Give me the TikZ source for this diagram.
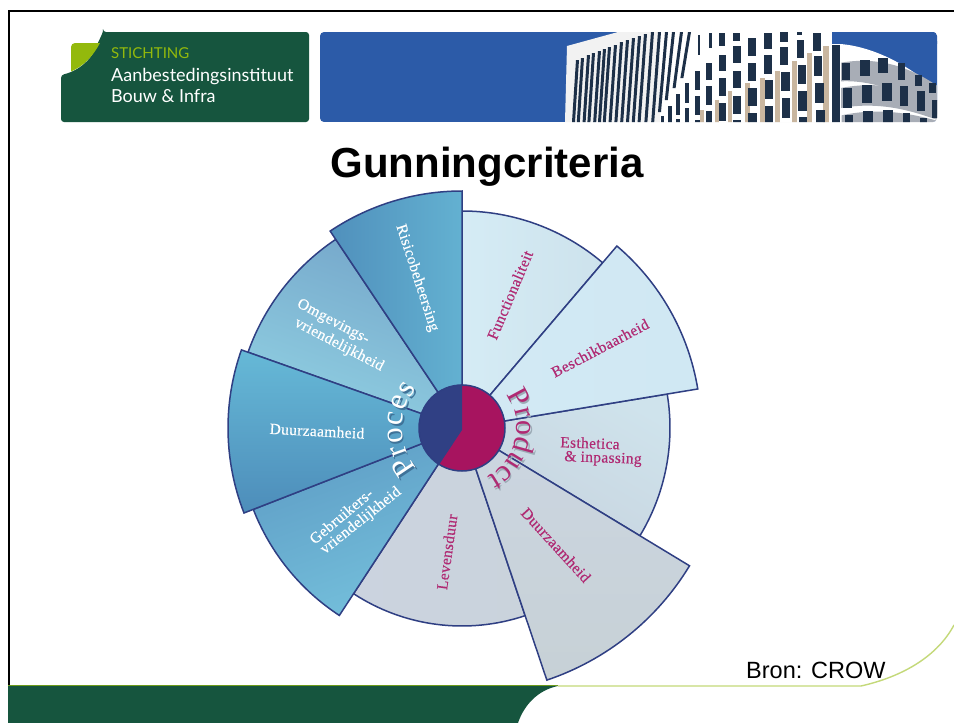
\documentclass[tikz,border=0pt]{standalone}
\usepackage{fontspec}
\usetikzlibrary{decorations.text}
\setmainfont{Liberation Serif}
\newfontfamily\arialf{Liberation Sans}
\newfontfamily\logof{Lato}
\newfontfamily\labelf[LetterSpace=2,FakeBold=0.25]{Liberation Serif}
\definecolor{edgeblue}{HTML}{2F3F83}
\definecolor{hubblue}{HTML}{304084}
\definecolor{hubred}{HTML}{A7145F}
\definecolor{labelred}{HTML}{B02A73}
\definecolor{dgreen}{HTML}{16553E}
\definecolor{lgreen}{HTML}{93B90C}
\definecolor{sky}{HTML}{2C5BA8}
\definecolor{darkwin}{HTML}{1D3048}
\definecolor{tanband}{HTML}{C9B69F}
\definecolor{mull}{HTML}{A8ADB6}
\definecolor{shadeblue}{HTML}{3F7298}
\definecolor{shadegray}{HTML}{9CABB6}
\definecolor{fa}{HTML}{D5ECF5}\definecolor{fb}{HTML}{CDE2EC}
\definecolor{ea}{HTML}{CFE3EC}\definecolor{eb}{HTML}{C8D5E0}
\definecolor{la}{HTML}{CBD3DF}\definecolor{lb}{HTML}{CAD3DC}
\definecolor{ga}{HTML}{5F9EC6}\definecolor{gb}{HTML}{74BFDB}
\definecolor{oa}{HTML}{76A8CB}\definecolor{ob}{HTML}{8FCEE1}
\definecolor{ba}{HTML}{D2E9F4}\definecolor{bb}{HTML}{D0E8F3}
\definecolor{da}{HTML}{CBD5E0}\definecolor{db}{HTML}{C7D1D6}
\definecolor{ua}{HTML}{66B9D7}\definecolor{ub}{HTML}{4D8DBA}
\definecolor{ra}{HTML}{5090BC}\definecolor{rb}{HTML}{63B1D1}
\newcommand{\sectorshape}[4]{\draw[sector,#1] (#2:43) -- (#2:#4) arc[start angle=#2,end angle=#3,radius=#4] -- (#3:43) -- cycle;}
\tikzset{
  sector/.style={draw=edgeblue,line width=1.5pt,line join=miter},
  redlabel/.style={text=labelred,font=\labelf\fontsize{15.5}{17}\selectfont,inner sep=0pt,align=center},
  whitelabel/.style={text=white,font=\labelf\fontsize{15.5}{17}\selectfont,inner sep=0pt,align=center},
  logotext/.style={anchor=base west,inner sep=0pt,font=\logof},
}
\begin{document}
\begin{tikzpicture}[x=1pt,y=-1pt]
\useasboundingbox (0,0) rectangle (954,723);
\fill[white] (0,0) rectangle (954,723);
% frame
\draw[black,line width=2pt] (8.5,723) -- (8.5,11) -- (954,11);
% footer
\fill[dgreen] (8,686) -- (558,686) .. controls (538,690) and (524,705) .. (518,723) -- (8,723) -- cycle;
\draw[color=lgreen!70!dgreen,line width=1pt] (8,685.5) -- (558,685.5);
\draw[color=lgreen!55!white,line width=1.4pt] (558,686) -- (861,686) .. controls (905,676) and (938,655) .. (954,625);
% logo
\fill[dgreen,rounded corners=3pt] (103,32) -- (309,32) -- (309,122) -- (61,122) -- (61,75) .. controls (82,70) and (96,55) .. (103,32) -- cycle;
\fill[dgreen] (103,32) -- (120,32) -- (120,50) -- (90,60) -- cycle;
\fill[lgreen] (71,47) arc[start angle=180,end angle=270,radius=4] -- (100,43) .. controls (93,56) and (84,66) .. (71,71.5) -- cycle;
\node[logotext,text=lgreen] (stichting) at (111,58) {\fontsize{15}{16}\selectfont STICHTING};
\node[logotext,text=white] (aanb) at (111,81) {\fontsize{18}{20}\selectfont Aanbestedingsinstituut};
\node[logotext,text=white] (bouw) at (111,102) {\fontsize{18}{20}\selectfont Bouw \& Infra};
% photo
\begin{scope}
\clip[rounded corners=4pt] (320,32) rectangle (937,122);
\fill[sky] (320,32) rectangle (937,122);
\fill[white!90!gray] (565,122) -- (567,46) -- (618,32) -- (835,32) -- (835,122) -- cycle;
\fill[white] (660,32) -- (835,32) -- (835,122) -- (660,122) -- cycle;
% slats
\foreach \i/\tx/\ty in {0/576/60,1/581/58,2/587/55,3/592/53,4/598/51,5/603/49,6/608/47,7/614/45,8/620/42,9/626/40,10/632/38,11/638/36,12/644/34,13/651/32,14/658/32,15/665/32,16/672/32,17/680/32,18/688/32}{
  \pgfmathsetmacro{\bx}{\tx-4-0.2*\i}
  \pgfmathsetmacro{\by}{\i<13 ? 122 : (\i<15 ? 122 : (\i==15 ? 112 : (\i==16 ? 100 : (\i==17 ? 88 : 78))))}
  \fill[darkwin] (\tx,\ty) -- (\tx+3,\ty) -- (\bx+3,\by) -- (\bx,\by) -- cycle;
}
% tan bands and windows on the facade (zoom coordinates)
\begin{scope}[shift={(555,28)},scale=1/3]
\foreach \a/\b in {435/245,480/215,520/190}{\fill[tanband] (\a,\b) rectangle (\a+12,290);}
\foreach \a/\b/\c/\d in {362/198/374/260,362/272/374/290,390/165/402/225,390/240/402/290,420/130/434/185,420/205/434/260,420/275/434/290,452/105/470/155,452/175/470/232,452/250/470/290,492/80/512/130,492/150/512/205,492/225/512/280,535/55/558/105,535/130/558/180,535/205/558/258,535/275/558/290,340/235/350/290,318/265/328/290,430/20/436/80,462/15/472/60,492/15/510/55,535/15/556/38}{\fill[darkwin] (\a,\b) rectangle (\c,\d);}
\end{scope}
\begin{scope}[shift={(745,28)},scale=1/3]
\foreach \a/\b in {0/165,45/150,90/130,140/100,185/75,235/55}{\fill[tanband] (\a,\b) rectangle (\a+16,290);}
\foreach \a/\b/\c/\d in {10/30/34/85,10/105/34/160,10/180/36/235,10/255/36/290,56/14/80/62,56/80/82/138,60/155/84/212,60/235/84/290,104/12/128/42,106/58/130/112,108/132/134/190,110/210/136/270,155/12/172/20,155/35/178/90,158/110/182/168,160/190/186/248,162/268/186/290,204/15/228/68,208/85/232/145,210/165/236/225,212/245/240/290}{\fill[darkwin] (\a,\b) rectangle (\c,\d);}
% right building
\fill[white] (255,-10) rectangle (285,290);
\fill[sky] (262,-10) rectangle (900,48);
\fill[sky] (285,40) rectangle (600,220);
\fill[white] (285,48) .. controls (380,55) and (500,110) .. (600,210) -- (600,290) -- (285,290) -- cycle;
\fill[darkwin] (262,50) rectangle (285,290);
\fill[mull] (288,104) .. controls (400,85) and (500,115) .. (600,190) -- (600,275) .. controls (500,205) and (400,155) .. (288,160) -- cycle;
\fill[mull] (288,180) .. controls (400,158) and (500,180) .. (600,230) -- (600,285) .. controls (500,245) and (400,220) .. (288,240) -- cycle;
\fill[mull] (290,262) .. controls (400,238) and (500,255) .. (600,285) -- (600,300) -- (290,300) -- cycle;
\foreach \a/\b/\c/\d in {290/105/315/155,345/95/375/145,400/90/430/135,458/105/480/155,510/140/530/175,552/165/572/195,295/180/320/240,350/170/380/225,410/165/440/220,465/175/490/235,515/190/540/250,560/215/578/270,300/262/325/290,355/250/385/290,415/245/445/290,475/255/495/290,525/270/545/290}{\fill[darkwin] (\a,\b) rectangle (\c,\d);}
\end{scope}
\end{scope}
% title
\node[inner sep=0pt,font=\arialf\bfseries\fontsize{42}{46}\selectfont] (title) at (487,167) {Gunningcriteria};
% wheel
\begin{scope}[shift={(462,428)},x=1pt,y=1pt]
\sectorshape{left color=fa,right color=fb}{90}{49.6}{217}
\sectorshape{top color=ea,bottom color=eb,shading angle=-30}{9.4}{-31.2}{208}
\sectorshape{left color=la,right color=lb}{-71.4}{-123.2}{198}
\sectorshape{left color=ga,right color=gb,shading angle=20}{-123.2}{-158.7}{224}
\sectorshape{top color=oa,bottom color=ob,shading angle=-20}{160.5}{123.8}{227}
\sectorshape{left color=ba,right color=bb}{49.6}{9.4}{239}
\sectorshape{top color=da,bottom color=db}{-31.2}{-71.4}{266}
\sectorshape{top color=ua,bottom color=ub}{-158.7}{-199.5}{234}
\sectorshape{left color=ra,right color=rb}{123.8}{90}{237}
\node[circle,minimum size=86pt,inner sep=0pt] (hub) at (0,0) {};
\fill[hubred] (0,0) circle[radius=43];
\fill[hubblue] (0,43) arc[start angle=90,end angle=238,radius=43] -- (0,-2) -- cycle;
\draw[edgeblue,line width=1.5pt] (0,0) circle[radius=43];
% curved words: shadow, then letters
\path[decorate,decoration={text along path,text align={fit to path},text={|\fontsize{31}{33}\selectfont\color{shadeblue}|Proces}}]
  (222:60) ++(1.5,-2) arc[start angle=222,end angle=139,radius=60];
\path[decorate,decoration={text along path,text align={fit to path},text={|\fontsize{31}{33}\selectfont\color{white}|Proces}}]
  (222:60) arc[start angle=222,end angle=139,radius=60];
\path[decorate,decoration={text along path,text align={fit to path},text={|\fontsize{30}{33}\selectfont\color{shadegray}|Product}}]
  (37:55) ++(1.5,-2) arc[start angle=37,end angle=-63,radius=55];
\path[decorate,decoration={text along path,text align={fit to path},text={|\fontsize{30}{33}\selectfont\color{labelred}|Product}}]
  (37:55) arc[start angle=37,end angle=-63,radius=55];
\end{scope}
% labels
\node[whitelabel,rotate=-72] (risico) at (417,278) {Risicobeheersing};
\node[whitelabel,rotate=-28] (omg1) at (333,322) {Omgevings-};
\node[whitelabel,rotate=-27.5] (omg2) at (339,345) {vriendelijkheid};
\node[whitelabel,rotate=-3] (duurzl) at (317,431) {Duurzaamheid};
\node[whitelabel,rotate=40] (gebr1) at (341,516) {Gebruikers-};
\node[whitelabel,rotate=38.5] (gebr2) at (361,521) {vriendelijkheid};
\node[redlabel,rotate=67] (func) at (510,295) {Functionaliteit};
\node[redlabel,rotate=27.8] (besch) at (600,348) {Beschikbaarheid};
\node[redlabel,rotate=-2] (esth1) at (590,443) {Esthetica};
\node[redlabel,rotate=-2] (esth2) at (603,459) {\& inpassing};
\node[redlabel,rotate=-47.6] (duurzr) at (556,545) {Duurzaamheid};
\node[redlabel,rotate=82] (leven) at (447,552) {Levensduur};
% source
\node[inner sep=0pt,anchor=base west,font=\arialf\fontsize{23.5}{26}\selectfont] (bron) at (746,678) {Bron: CROW};
\end{tikzpicture}
\end{document}
